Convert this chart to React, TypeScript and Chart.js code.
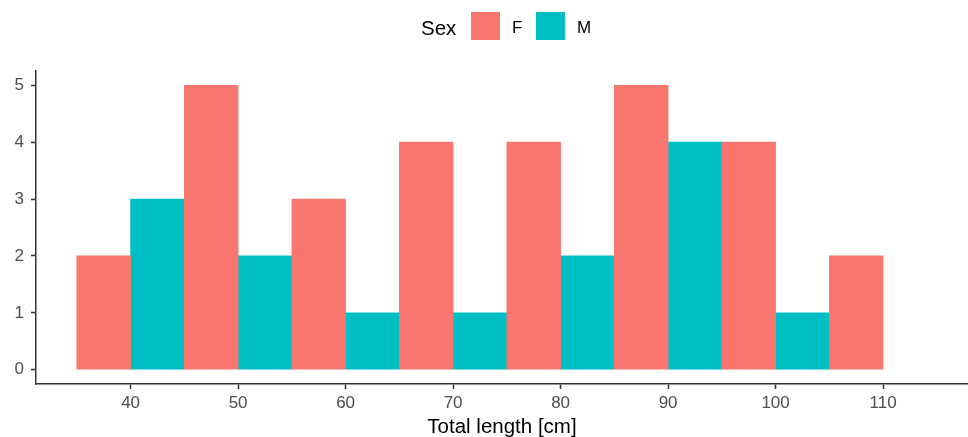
import React, { useEffect, useRef } from "react";
import { Chart, registerables } from "chart.js";

Chart.register(...registerables);

const binCenters = [40, 50, 60, 70, 80, 90, 100, 110];
const femaleCounts = [2, 5, 3, 4, 4, 5, 4, 2];
const maleCounts = [3, 2, 1, 1, 2, 4, 1, 0];
const xTicks = [40, 50, 60, 70, 80, 90, 100, 110];
const yTicks = [0, 1, 2, 3, 4, 5];
const binWidth = 10;

const FEMALE = "#F8766D";
const MALE = "#00BFC4";
const FONT = "'Liberation Sans', Arial, sans-serif";

export default function App() {
  const ref = useRef<HTMLCanvasElement | null>(null);

  useEffect(() => {
    document.body.style.margin = "0";
    const canvas = ref.current;
    if (!canvas) return;
    const half = binWidth / 4;
    const fData = binCenters.map((c, i) => ({ x: c - half, y: femaleCounts[i] }));
    const mData = binCenters.map((c, i) => ({ x: c + half, y: maleCounts[i] }));
    const colorFor = (col: string) => (ctx: any) =>
      ctx.raw && ctx.raw.y === 0 ? "rgba(0,0,0,0)" : col;
    const chart = new Chart(canvas, {
      type: "bar",
      data: {
        datasets: [
          { label: "F", data: fData, backgroundColor: colorFor(FEMALE), borderWidth: 0 },
          { label: "M", data: mData, backgroundColor: colorFor(MALE), borderWidth: 0 },
        ],
      },
      options: {
        animation: false,
        responsive: false,
        maintainAspectRatio: false,
        grouped: false,
        barPercentage: 1,
        categoryPercentage: 1,
        layout: { padding: { top: 71, left: 0, right: 0, bottom: 0 } },
        plugins: { legend: { display: false }, tooltip: { enabled: false } },
        scales: {
          x: {
            type: "linear",
            offset: false,
            min: 31.2,
            max: 117.9,
            afterBuildTicks: (s: any) => {
              s.ticks = xTicks.map((v) => ({ value: v }));
            },
            afterFit: (s: any) => {
              s.height = 53;
            },
            grid: {
              offset: false,
              drawOnChartArea: false,
              drawTicks: true,
              tickLength: 5,
              tickColor: "#333333",
              tickWidth: 1.5,
            },
            border: { display: true, color: "#333333", width: 1.5 },
            ticks: {
              color: "#4D4D4D",
              font: { family: FONT, size: 17 },
              padding: 4.5,
              maxRotation: 0,
              autoSkip: false,
            },
            title: {
              display: true,
              text: "Total length [cm]",
              color: "#000000",
              font: { family: FONT, size: 20.5, lineHeight: 1 },
              padding: { top: 0, bottom: -1 },
            },
          },
          y: {
            type: "linear",
            min: -0.25,
            max: 5.25,
            afterBuildTicks: (s: any) => {
              s.ticks = yTicks.map((v) => ({ value: v }));
            },
            afterFit: (s: any) => {
              s.width = 36;
            },
            grid: {
              drawOnChartArea: false,
              drawTicks: true,
              tickLength: 5,
              tickColor: "#333333",
              tickWidth: 1.5,
            },
            border: { display: true, color: "#333333", width: 1.5 },
            ticks: {
              color: "#4D4D4D",
              font: { family: FONT, size: 17 },
              padding: 7,
            },
          },
        },
      },
    });
    return () => chart.destroy();
  }, []);

  const textStyle: React.CSSProperties = {
    position: "absolute",
    top: 13,
    height: 29,
    lineHeight: "29px",
    fontFamily: FONT,
    color: "#000",
    whiteSpace: "nowrap",
  };

  return (
    <div style={{ position: "relative", width: 968, height: 437, overflow: "hidden", background: "#fff" }}>
      <canvas ref={ref} width={968} height={437} style={{ position: "absolute", left: 0, top: 0 }} />
      <div style={{ ...textStyle, left: 421, fontSize: 20.5 }}>Sex</div>
      <div style={{ position: "absolute", left: 471, top: 12, width: 29, height: 28, background: FEMALE }} />
      <div style={{ ...textStyle, left: 512, fontSize: 17 }}>F</div>
      <div style={{ position: "absolute", left: 536, top: 12, width: 29, height: 28, background: MALE }} />
      <div style={{ ...textStyle, left: 577, fontSize: 17 }}>M</div>
    </div>
  );
}
